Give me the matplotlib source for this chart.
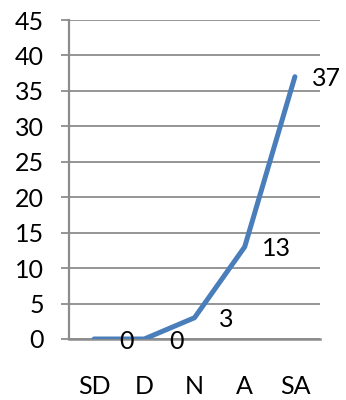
import matplotlib.pyplot as plt

# Responses per answer category
categories = ['SD', 'D', 'N', 'A', 'SA']
counts = [0, 0, 3, 13, 37]
y_ticks = [0, 5, 10, 15, 20, 25, 30, 35, 40, 45]

plt.rcParams['font.family'] = ['Lato', 'DejaVu Sans']

fig = plt.figure(figsize=(3.46, 4.0), dpi=100)
ax = fig.add_axes([69 / 346, 61 / 400, 251 / 346, 319 / 400])

x = list(range(len(categories)))
ax.plot(x, counts, color='#4A7EBB', linewidth=3.6, solid_capstyle='round', zorder=3)

# value labels to the right of each point
for xi, v in zip(x, counts):
    ax.annotate(str(v), (xi, v), xytext=(23, -1.5), textcoords='offset points',
                ha='center', va='center', fontsize=18, color='black', zorder=4)

ax.set_xlim(-0.5, len(categories) - 0.5)
ax.set_ylim(0, 45)
ax.set_yticks(y_ticks)
ax.set_xticks(x)
ax.set_xticklabels(categories)

ax.grid(axis='y', color='#8c8c8c', linewidth=1.3)
ax.set_axisbelow(True)
for side in ['top', 'right']:
    ax.spines[side].set_visible(False)
ax.spines['left'].set_color('#8c8c8c')
ax.spines['left'].set_linewidth(1.6)
ax.spines['bottom'].set_color('#8c8c8c')
ax.spines['bottom'].set_linewidth(1.8)

ax.tick_params(axis='y', length=6, width=1.3, color='#8c8c8c', labelsize=18, pad=12)
ax.tick_params(axis='x', length=0, labelsize=18, pad=26)

fig.savefig('out.png', dpi=100)
